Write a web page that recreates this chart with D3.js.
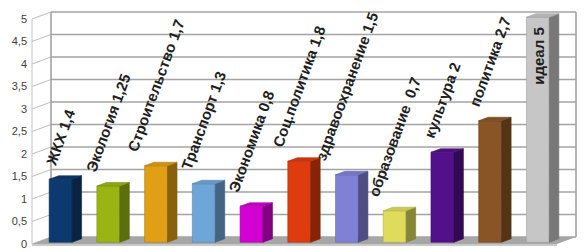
<!DOCTYPE html>
<html>
<head>
<meta charset="utf-8">
<script src="https://cdn.jsdelivr.net/npm/d3@7"></script>
<style>
  html, body { margin: 0; padding: 0; background: #fff; }
  svg { display: block; font-family: 'Liberation Sans', Arial, sans-serif; }
</style>
</head>
<body>
<script>
const width = 584;
const height = 252;

// data
const categories = ['ЖКХ', 'Экология', 'Строительство', 'Транспорт', 'Экономика',
  'Соц.политика', 'здравоохранение', 'образование ', 'культура', 'политика', 'идеал'];
const values = [1.4, 1.25, 1.7, 1.3, 0.8, 1.8, 1.5, 0.7, 2, 2.7, 5];
const valueLabels = ['1,4', '1,25', '1,7', '1,3', '0,8', '1,8', '1,5', '0,7', '2', '2,7', '5'];
const yTicks = [0, 0.5, 1, 1.5, 2, 2.5, 3, 3.5, 4, 4.5, 5];

const fronts = ['#0d3a6e', '#9ab513', '#e19f16', '#6fa6d8', '#d300d3',
  '#de3b0e', '#8080d6', '#dfdc5c', '#53108b', '#8a5526', '#c6c6c6'];

// 3D box: front plane from x 32..557, depth adds (19, -7)
const depthX = 19;
const depthY = -7;
const angle = 70;

const x = d3.scaleBand()
  .domain(categories)
  .range([32, 557])
  .paddingInner(0.52)
  .paddingOuter(0.26);

const y = d3.scaleLinear()
  .domain([0, 5])
  .range([244, 19]);

const P = (px, v, z) => [px + depthX * z, y(v) + depthY * z];
const poly = (pts) => pts.map((p) => p.join(',')).join(' ');

const svg = d3.select('body')
  .append('svg')
    .attr('width', width)
    .attr('height', height);

const x0 = x.range()[0];
const x1 = x.range()[1];

// back wall gridlines
svg.append('g')
  .selectAll('line')
  .data(yTicks)
  .join('line')
    .attr('x1', (d) => P(x0, d, 1)[0])
    .attr('x2', (d) => P(x1, d, 1)[0])
    .attr('y1', (d) => P(x0, d, 1)[1])
    .attr('y2', (d) => P(x1, d, 1)[1])
    .attr('stroke', '#a3a3a3')
    .attr('stroke-width', 1.6);

// left wall diagonals
svg.append('g')
  .selectAll('line')
  .data(yTicks)
  .join('line')
    .attr('x1', (d) => P(x0, d, 0)[0])
    .attr('x2', (d) => P(x0, d, 1)[0])
    .attr('y1', (d) => P(x0, d, 0)[1])
    .attr('y2', (d) => P(x0, d, 1)[1])
    .attr('stroke', '#bdbdbd')
    .attr('stroke-width', 1);

// wall edges
[[P(x0, 0, 0), P(x0, 5, 0)], [P(x0, 0, 1), P(x0, 5, 1)], [P(x1, 0, 1), P(x1, 5, 1)]]
  .forEach(([a, b], i) => {
    svg.append('line')
      .attr('x1', a[0]).attr('y1', a[1])
      .attr('x2', b[0]).attr('y2', b[1])
      .attr('stroke', i === 0 ? '#c4c4c4' : '#a3a3a3')
      .attr('stroke-width', i === 0 ? 1 : 1.6);
  });

// floor
svg.append('polygon')
  .attr('points', poly([P(x0, 0, 0), P(x1, 0, 0), P(x1, 0, 1), P(x0, 0, 1)]))
  .attr('fill', '#a6a6a6');
svg.append('polygon')
  .attr('points', poly([P(x0, 0, 0), P(x1, 0, 0), [P(x1, 0, 0)[0], P(x1, 0, 0)[1] + 2], [P(x0, 0, 0)[0], P(x0, 0, 0)[1] + 2]]))
  .attr('fill', '#c9c9c9');

// y axis labels
svg.append('g')
  .selectAll('text')
  .data(yTicks)
  .join('text')
    .attr('x', x0 - 5)
    .attr('y', (d) => y(d))
    .attr('dy', '0.35em')
    .attr('text-anchor', 'end')
    .attr('font-size', 11)
    .attr('fill', '#404040')
    .text((d) => d3.format('.1~f')(d).replace('.', ','));

// bars
const z0 = 0.25;
const z1 = 0.75;

const bars = svg.append('g')
  .selectAll('g')
  .data(categories)
  .join('g');

const darker = (c, k) => d3.color(c).darker(k).formatHex();

bars.append('polygon')
  .attr('points', (d, i) => {
    const a = x(d), b = x(d) + x.bandwidth(), v = values[i];
    return poly([P(a, 0, z0), P(b, 0, z0), P(b, v, z0), P(a, v, z0)]);
  })
  .attr('fill', (d, i) => fronts[i])
  .attr('stroke', (d, i) => darker(fronts[i], 0.6))
  .attr('stroke-width', 0.6);

bars.append('polygon')
  .attr('points', (d, i) => {
    const b = x(d) + x.bandwidth(), v = values[i];
    return poly([P(b, 0, z0), P(b, 0, z1), P(b, v, z1), P(b, v, z0)]);
  })
  .attr('fill', (d, i) => darker(fronts[i], 1.4))
  .attr('stroke', (d, i) => darker(fronts[i], 1.6))
  .attr('stroke-width', 0.6);

bars.append('polygon')
  .attr('points', (d, i) => {
    const a = x(d), b = x(d) + x.bandwidth(), v = values[i];
    return poly([P(a, v, z0), P(b, v, z0), P(b, v, z1), P(a, v, z1)]);
  })
  .attr('fill', (d, i) => darker(fronts[i], 0.25))
  .attr('stroke', (d, i) => darker(fronts[i], 0.6))
  .attr('stroke-width', 0.6);

// labels: rotated box centred over the bar front
const last = categories.length - 1;
const rad = angle * Math.PI / 180;
const glyphH = 11;
const gap = 13;

svg.append('g')
  .selectAll('text')
  .data(categories)
  .join('text')
    .attr('text-anchor', (d, i) => i === last ? 'end' : 'middle')
    .attr('dy', (d, i) => i === last ? 0 : '0.35em')
    .attr('font-size', 15)
    .attr('font-weight', 'bold')
    .attr('fill', '#1e1e1e')
    .style('white-space', 'pre')
    .text((d, i) => `${d} ${valueLabels[i]}`)
    .attr('transform', function (d, i) {
      const [px, py] = P(x(d), values[i], z0);
      if (i === last) {
        return `translate(${px + x.bandwidth() / 2 + 6},${py + 10}) rotate(-90)`;
      }
      const len = this.getComputedTextLength();
      const boxH = len * Math.sin(rad) + glyphH * Math.cos(rad);
      const cx = px + x.bandwidth() / 2;
      const cy = py - gap - boxH / 2;
      return `translate(${cx},${cy}) rotate(${-angle})`;
    });
</script>
</body>
</html>
